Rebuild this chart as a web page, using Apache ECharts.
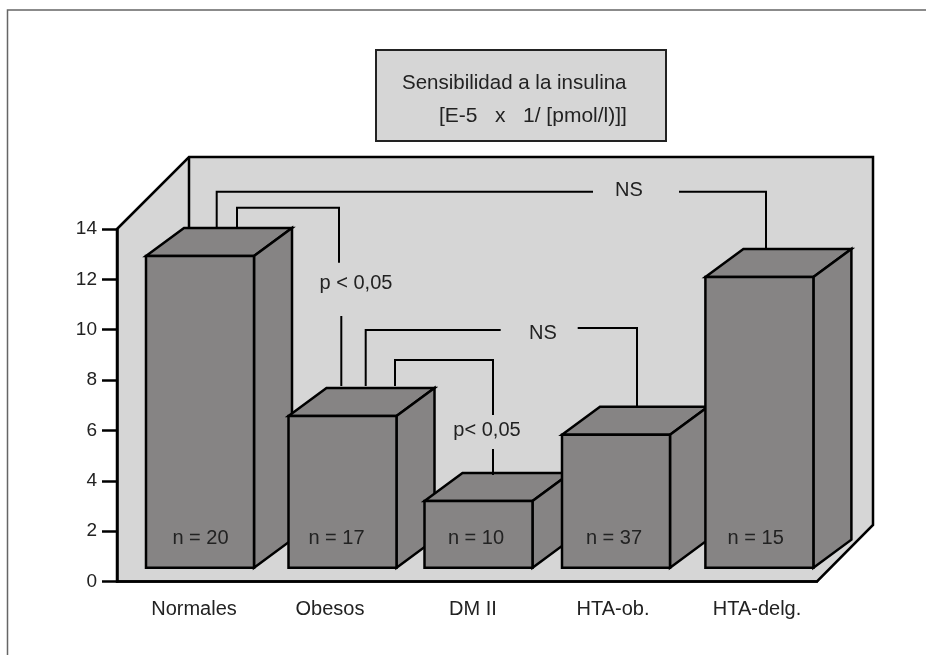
<!DOCTYPE html>
<html>
<head>
<meta charset="utf-8">
<style>html,body{margin:0;padding:0;background:#fff}#c{width:926px;height:655px}</style>
<script src="https://cdn.jsdelivr.net/npm/echarts@6/dist/echarts.min.js"></script>
</head>
<body>
<div id="c"></div>
<script>
// ---- data ----
const categories = ['Normales', 'Obesos', 'DM II', 'HTA-ob.', 'HTA-delg.'];
const values = [12.93, 6.57, 3.2, 5.83, 12.09];
const sampleLabels = ['n = 20', 'n = 17', 'n = 10', 'n = 37', 'n = 15'];
const barBase = 0.55;
const yTicks = { min: 0, max: 14, interval: 2 };

// ---- layout and style ----
const FONT = '"Liberation Sans", Arial, sans-serif';
const TXT = '#222';
const WALL = '#d6d6d6', BAR = '#868484', INK = '#000';
const G = { left: 117, right: 817, top: 229, bottom: 581.5 };
const WALL_DY = 56.5;
const WALL_TOP = 157, WALL_RIGHT = 873;
const BAR_W = 108, DEPTH_X = 38, DEPTH_Y = 28;
const barShift = [13, 15.5, 11.5, 9, 12.4];
const nShift = [0.5, -6, -2.5, -2, -3.7];
const labelShift = [7, 3, 6, 6, 10];

function seg(points, w, color) {
  return { type: 'polyline', z: 20, shape: { points: points },
    style: { stroke: color || INK, lineWidth: w || 2, fill: null, lineCap: 'butt' }, silent: true };
}
function txt(x, y, s, size, align) {
  return { type: 'text', z: 21, x: x, y: y, silent: true,
    style: { text: s, fill: TXT, font: (size || 20) + 'px ' + FONT,
      textAlign: align || 'center', textVerticalAlign: 'middle' } };
}
const labelRich = {};
labelShift.forEach(function (s, i) {
  labelRich['l' + i] = { color: TXT, fontSize: 20, fontFamily: FONT, padding: [0, 0, 0, 2 * s] };
});

const option = {
  animation: false,
  backgroundColor: '#fff',
  textStyle: { fontFamily: FONT },
  grid: { left: G.left, top: G.top, width: G.right - G.left, height: G.bottom - G.top, containLabel: false },
  xAxis: {
    type: 'category', data: categories, z: 6,
    axisLine: { show: true, lineStyle: { color: INK, width: 2.5 } },
    axisTick: { show: false },
    axisLabel: {
      margin: 18, color: TXT, interval: 0, fontSize: 20, fontFamily: FONT,
      formatter: function (v, i) { return '{l' + i + '|' + v + '}'; },
      rich: labelRich
    }
  },
  yAxis: {
    type: 'value', min: yTicks.min, max: yTicks.max, interval: yTicks.interval, z: 6,
    splitLine: { show: false },
    axisLine: { show: true, lineStyle: { color: INK, width: 2.5 } },
    axisTick: { show: true, length: 15, lineStyle: { color: INK, width: 2.5 } },
    axisLabel: { margin: 20, color: TXT, fontSize: 19, fontFamily: FONT }
  },
  series: [
    {
      type: 'custom', name: 'Paredes', z: 1, silent: true, data: [[0, 0]],
      renderItem: function () {
        const L = G.left, R = G.right, T = G.top, B = G.bottom;
        return {
          type: 'group', children: [
            { type: 'polygon', shape: { points: [[L, T], [L + 72, WALL_TOP], [WALL_RIGHT, WALL_TOP], [WALL_RIGHT, B - WALL_DY], [R, B], [L, B]] },
              style: { fill: WALL, stroke: INK, lineWidth: 2.5 } },
            { type: 'line', shape: { x1: L + 72, y1: WALL_TOP, x2: L + 72, y2: T },
              style: { stroke: INK, lineWidth: 2.5 } }
          ]
        };
      }
    },
    {
      type: 'custom', name: 'Sensibilidad a la insulina', z: 3, silent: true,
      data: values.map(function (v, i) { return [i, v]; }),
      encode: { x: 0, y: 1 },
      renderItem: function (params, api) {
        const i = api.value(0);
        const top = api.coord([i, api.value(1)]);
        const base = api.coord([i, barBase]);
        const x0 = top[0] + barShift[i] - BAR_W / 2, x1 = x0 + BAR_W;
        const y0 = top[1], y1 = base[1];
        const st = { fill: BAR, stroke: INK, lineWidth: 2.5, lineJoin: 'miter' };
        const bx = x1 + DEPTH_X;
        return {
          type: 'group', children: [
            { type: 'polygon', shape: { points: [[x0, y0], [x0 + DEPTH_X, y0 - DEPTH_Y], [bx, y0 - DEPTH_Y], [x1, y0]] }, style: st },
            { type: 'polygon', shape: { points: [[x1, y0], [bx, y0 - DEPTH_Y], [bx, y1 - DEPTH_Y], [x1, y1]] }, style: st },
            { type: 'rect', shape: { x: x0, y: y0, width: BAR_W, height: y1 - y0 }, style: st },
            { type: 'text', x: (x0 + x1) / 2 + nShift[i], y: y1 - 29.5, silent: true,
              style: { text: sampleLabels[i], fill: TXT, font: '20px ' + FONT, textAlign: 'center', textVerticalAlign: 'middle' } }
          ]
        };
      }
    }
  ],
  graphic: {
    elements: [
      seg([[7.5, 655], [7.5, 10], [926, 10]], 1.5, '#666'),
      { type: 'rect', z: 19, shape: { x: 376, y: 50, width: 290, height: 91 }, silent: true,
        style: { fill: WALL, stroke: '#222', lineWidth: 2 } },
      txt(402, 83, 'Sensibilidad a la insulina', 20.5, 'left'),
      txt(439, 116, '[E-5   x   1/ [pmol/l)]]', 21, 'left'),
      seg([[216.7, 229], [216.7, 191.7], [593, 191.7]]),
      seg([[679, 191.7], [766, 191.7], [766, 250]]),
      txt(629, 190, 'NS'),
      seg([[237, 229], [237, 207.7], [339, 207.7], [339, 262.7]]),
      seg([[341.3, 316], [341.3, 386]]),
      txt(356, 283, 'p < 0,05'),
      seg([[365.7, 386], [365.7, 330], [500.7, 330]]),
      seg([[577.7, 328], [637, 328], [637, 407]]),
      txt(543, 333, 'NS'),
      seg([[395, 386], [395, 360], [493, 360], [493, 415]]),
      seg([[493, 449], [493, 475]]),
      txt(487, 430, 'p< 0,05')
    ]
  }
};
const chart = echarts.init(document.getElementById('c'), null, { renderer: 'canvas' });
chart.setOption(option);
</script>
</body>
</html>
